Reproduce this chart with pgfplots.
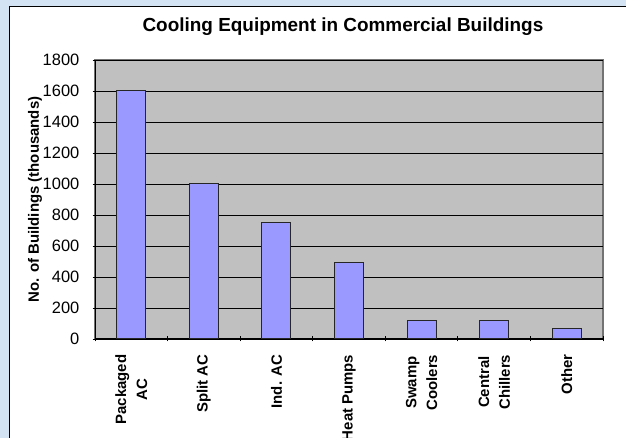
\documentclass[border=0pt]{standalone}
\usepackage{fontspec}
\setmainfont{Liberation Sans}
\usepackage{pgfplots}
\pgfplotsset{compat=1.18}
\definecolor{bgblue}{RGB}{212,227,243}
\definecolor{plotgray}{RGB}{192,192,192}
\definecolor{barblue}{RGB}{153,153,255}
\begin{document}
\begin{tikzpicture}[x=1bp,y=1bp]
\useasboundingbox (0,0) rectangle (626,438);
\fill[bgblue] (0,0) rectangle (626,438);
\draw[fill=white,line width=1.6bp] (9.5,-5) rectangle (632,431.5);
\begin{axis}[
  at={(95bp,99bp)}, anchor=south west,
  width=508bp, height=279bp, scale only axis,
  ybar, bar width=29bp,
  xmin=-0.5, xmax=6.5, ymin=0, ymax=1800,
  ytick={0,200,...,1800},
  xtick={0,...,6},
  xticklabels={{Packaged\\AC},{Split AC},{Ind. AC},{Heat Pumps},{Swamp\\Coolers},{Central\\Chillers},{Other}},
  minor xtick={-0.5,0.5,...,6.5},
  major x tick style={draw=none},
  minor x tick style={black, line width=0.8bp},
  major y tick style={black, line width=0.8bp},
  tick align=outside,
  major tick length=5bp, minor tick length=5bp,
  axis lines=left,
  axis line style={-, black, line width=1bp},
  axis background/.style={fill=plotgray, draw=gray!90!black, line width=1.4bp},
  ymajorgrids, grid style={black, line width=0.9bp},
  /pgf/number format/assume math mode=true,
  /pgf/number format/1000 sep={},
  yticklabel style={font=\fontsize{16.5}{19}\selectfont, inner sep=0pt, xshift=-13bp},
  xticklabel style={yshift=-13bp, font=\bfseries\fontsize{15}{21}\selectfont, rotate=90, anchor=east, align=center, inner sep=0pt},
  ylabel={No. of Buildings (thousands)},
  ylabel style={at={(axis description cs:-0.118,0.5)}, anchor=center, font=\bfseries\fontsize{15}{18}\selectfont},
  title={Cooling Equipment in Commercial Buildings},
  title style={at={(axis description cs:0.488,1.097)}, anchor=center, font=\bfseries\fontsize{19}{22}\selectfont},
  clip=false,
]
\addplot[fill=barblue, draw=black!85, line width=1bp] coordinates {
  (0,1605) (1,1005) (2,752) (3,492) (4,117) (5,117) (6,68)
};
\end{axis}
\end{tikzpicture}
\end{document}
